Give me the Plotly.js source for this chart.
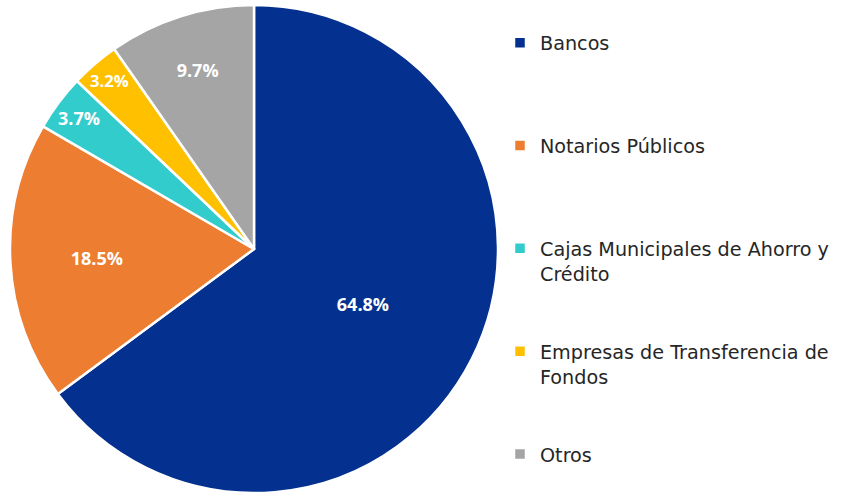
<!DOCTYPE html>
<html>
<head>
<meta charset="utf-8">
<script src="https://cdn.plot.ly/plotly-3.0.1.min.js"></script>
<style>html,body{margin:0;padding:0;background:#fff;}</style>
</head>
<body>
<div id="chart" style="width:854px;height:494px;"></div>
<script>
const categories = ["Bancos", "Notarios Públicos", "Cajas Municipales de Ahorro y<br>Crédito", "Empresas de Transferencia de<br>Fondos", "Otros"];
const shares = [64.8, 18.5, 3.7, 3.2, 9.7];
const colors = ["#04318F", "#ED7D31", "#33CCCC", "#FFC000", "#A5A5A5"];
const pad = ["<br> <br> <br> ", "<br> <br> <br> ", "<br> <br> ", "<br> <br> ", ""];

const trace = {
  type: "pie",
  labels: categories.map((c, i) => c + pad[i]),
  values: shares,
  sort: false,
  direction: "clockwise",
  rotation: 0,
  marker: {colors: colors, line: {color: "#ffffff", width: 2.5}},
  texttemplate: "%{value:.1f}%",
  textposition: "inside",
  insidetextorientation: "horizontal",
  textfont: {family: "Open Sans", size: 18, color: "#ffffff", weight: "bold"},
  hoverinfo: "label+value",
  domain: {x: [10/854, 498/854], y: [1 - 493/494, 1 - 5/494]}
};

const layout = {
  width: 854, height: 494,
  margin: {l: 0, r: 0, t: 0, b: 0},
  paper_bgcolor: "#ffffff",
  showlegend: true,
  legend: {
    x: 500/854, y: 0.952, xanchor: "left", yanchor: "top",
    valign: "top",
    font: {family: "DejaVu Sans", size: 19.2, color: "#262626"},
    itemwidth: 30,
    tracegroupgap: 0
  }
};

Plotly.newPlot("chart", [trace], layout, {displayModeBar: false, staticPlot: true});
</script>
</body>
</html>
